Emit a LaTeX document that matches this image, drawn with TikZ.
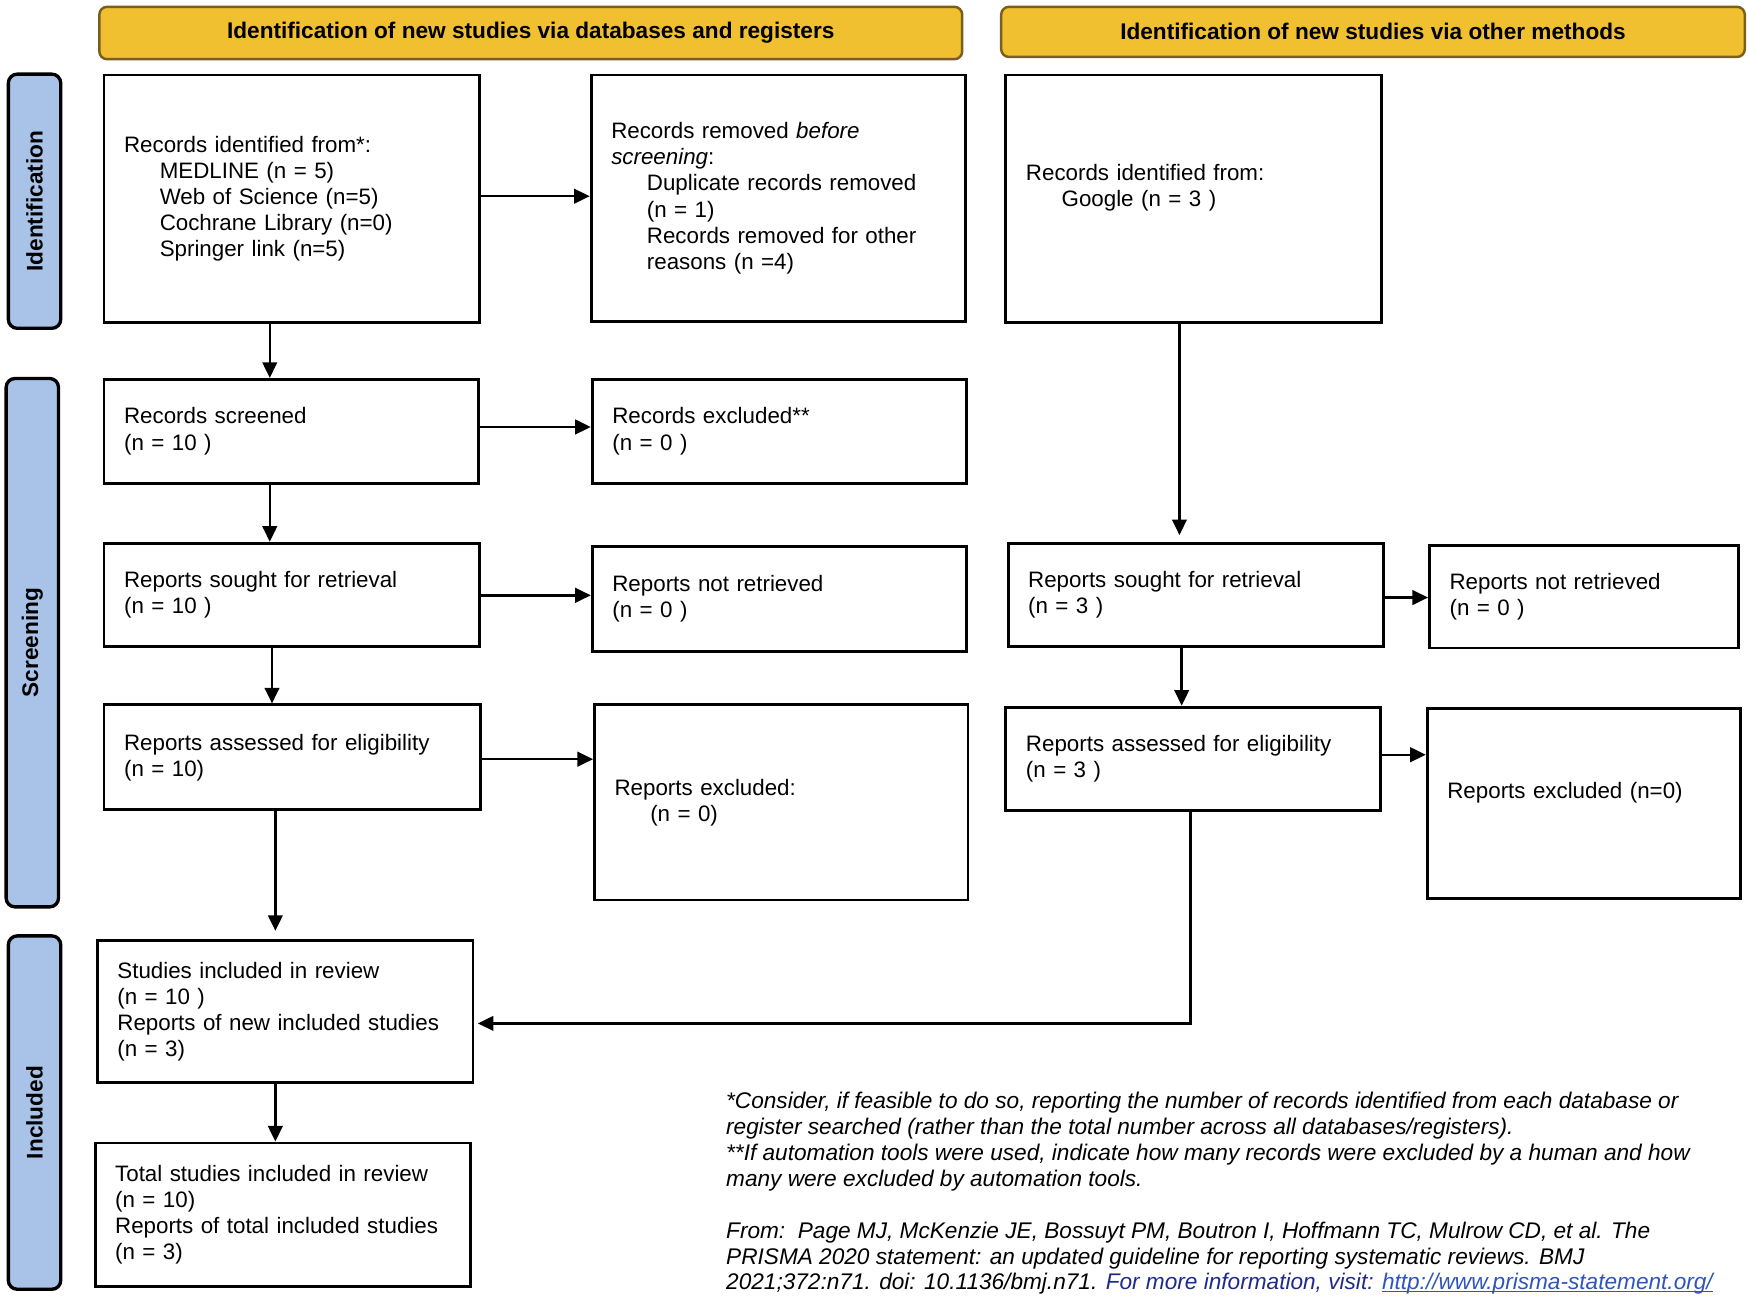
\documentclass[tikz,border=0pt]{standalone}
\usepackage{fontspec}
\setmainfont{Liberation Sans}
\usetikzlibrary{arrows.meta}
\definecolor{hdrfill}{HTML}{F0C030}
\definecolor{hdrline}{HTML}{7A5F1A}
\definecolor{sidefill}{HTML}{A8C3E7}
\definecolor{fromblue}{HTML}{1F2A8A}
\definecolor{urlblue}{HTML}{2F55B8}
\newcommand\myul[1]{\setbox0\hbox{#1}\rlap{\rule[-1.4pt]{\wd0}{0.6pt}}\box0}
\begin{document}
\begin{tikzpicture}[x=1pt,y=-1pt,
  every node/.style={font=\fontsize{10.15}{11.7}\selectfont},
  flowbox/.style={draw, line width=1.3pt, anchor=north west, align=left,
    inner xsep=9pt, inner ysep=0pt, font=\fontsize{10.02}{11.7}\selectfont},
  hdr/.style={draw=hdrline, fill=hdrfill, line width=1.1pt, rounded corners=3.5pt,
    anchor=north west, inner sep=0pt, font=\fontsize{10.15}{11.7}\selectfont\bfseries},
  side/.style={draw=black, fill=sidefill, line width=1.5pt, rounded corners=4pt,
    anchor=north west, inner sep=0pt},
  sidetext/.style={rotate=90, font=\fontsize{10.15}{11.7}\selectfont\bfseries},
  arr/.style={line width=1.1pt, -{Triangle[length=7pt,width=6.5pt]}},
  fnline/.style={anchor=base west, inner sep=0pt, font=\fontsize{10.15}{11.7}\selectfont\itshape}
]
\useasboundingbox (0,0) rectangle (784,581.7);

% headers
\node[hdr, minimum width=387pt, minimum height=23.5pt] (h1) at (44,2.5)
  {Identification of new studies via databases and registers};
\node[hdr, minimum width=333.5pt, minimum height=22.5pt] (h2) at (448.5,2.5)
  {Identification of new studies via other methods};

% side labels
\node[side, minimum width=23.5pt, minimum height=114pt] (s1) at (3,32.5) {};
\node[sidetext] (s1t) at (s1.center) {Identification};
\node[side, minimum width=23.5pt, minimum height=237pt] (s2) at (2,169) {};
\node[sidetext] (s2t) at (s2.center) {Screening};
\node[side, minimum width=23.5pt, minimum height=158.5pt] (s3) at (3,419) {};
\node[sidetext] (s3t) at (s3.center) {Included};

% left column
\node[flowbox, minimum width=168.5pt, minimum height=111pt, text width=150.5pt] (a1) at (46,33)
  {Records identified from*:\\
   \hspace*{16pt}MEDLINE (n = 5)\\
   \hspace*{16pt}Web of Science (n=5)\\
   \hspace*{16pt}Cochrane Library (n=0)\\
   \hspace*{16pt}Springer link (n=5)};
\node[flowbox, minimum width=168pt, minimum height=110.5pt, text width=150pt] (a2) at (264.5,33)
  {Records removed \emph{before}\\
   \emph{screening}:\\
   \hspace*{16pt}Duplicate records removed\\
   \hspace*{16pt}(n = 1)\\
   \hspace*{16pt}Records removed for other\\
   \hspace*{16pt}reasons (n =4)};
\node[flowbox, minimum width=168pt, minimum height=46.5pt, text width=150pt] (b1) at (46,169.5)
  {Records screened\\(n = 10 )};
\node[flowbox, minimum width=168pt, minimum height=46.5pt, text width=150pt] (b2) at (265,169.5)
  {Records excluded**\\(n = 0 )};
\node[flowbox, minimum width=168.5pt, minimum height=46.5pt, text width=150.5pt] (c1) at (46,243)
  {Reports sought for retrieval\\(n = 10 )};
\node[flowbox, minimum width=168pt, minimum height=47pt, text width=150pt] (c2) at (265,244.5)
  {Reports not retrieved\\(n = 0 )};
\node[flowbox, minimum width=169pt, minimum height=47pt, text width=151pt] (d1) at (46,315.5)
  {Reports assessed for eligibility\\(n = 10)};
\node[flowbox, minimum width=167.5pt, minimum height=87.5pt, text width=149.5pt] (d2) at (266,315.5)
  {Reports excluded:\\\hspace*{16pt}(n = 0)};
\node[flowbox, minimum width=168.5pt, minimum height=64pt, text width=150.5pt] (e1) at (43,421)
  {Studies included in review\\(n = 10 )\\Reports of new included studies\\(n = 3)};
\node[flowbox, minimum width=168.5pt, minimum height=64.5pt, text width=150.5pt] (f1) at (42,512)
  {Total studies included in review\\(n = 10)\\Reports of total included studies\\(n = 3)};

% right column
\node[flowbox, minimum width=168.5pt, minimum height=111pt, text width=150.5pt] (r1) at (450.5,33)
  {Records identified from:\\\hspace*{16pt}Google (n = 3 )\\\mbox{}};
\node[flowbox, minimum width=168.5pt, minimum height=46.5pt, text width=150.5pt] (r3) at (451.5,243)
  {Reports sought for retrieval\\(n = 3 )};
\node[flowbox, minimum width=138.5pt, minimum height=46pt, text width=120.5pt] (r3b) at (640.5,244)
  {Reports not retrieved\\(n = 0 )};
\node[flowbox, minimum width=168pt, minimum height=46.5pt, text width=150pt] (r4) at (450.5,316.5)
  {Reports assessed for eligibility\\(n = 3 )};
\node[flowbox, minimum width=140.5pt, minimum height=85.5pt, text width=122.5pt] (r4b) at (639.5,317)
  {Reports excluded (n=0)\\\mbox{}};

% helper coordinates for connector positions
\coordinate (xa) at (121,0);
\coordinate (xb) at (121,0);
\coordinate (xc) at (122,0);
\coordinate (xd) at (123.5,0);
\coordinate (xe) at (123.5,0);
\coordinate (xr1) at (529,0);
\coordinate (xr3) at (530,0);
\coordinate (xr4) at (534,0);
\coordinate (ya) at (0,88);
\coordinate (yb) at (0,191.5);
\coordinate (yc) at (0,267);
\coordinate (yd) at (0,340.5);
\coordinate (yr3) at (0,268);
\coordinate (yr4) at (0,338.5);
\coordinate (ye) at (0,459);
\coordinate (bend) at (534,459);

% connectors
\draw[arr] (a1.east |- ya) -- (a2.west |- ya);
\draw[arr] (a1.south -| xa) -- (b1.north -| xa);
\draw[arr] (b1.east |- yb) -- (b2.west |- yb);
\draw[arr] (b1.south -| xb) -- (c1.north -| xb);
\draw[arr] (c1.east |- yc) -- (c2.west |- yc);
\draw[arr] (c1.south -| xc) -- (d1.north -| xc);
\draw[arr] (d1.east |- yd) -- (d2.west |- yd);
\draw[arr] (d1.south -| xd) -- ([yshift=3.5pt]e1.north -| xd);
\draw[arr] (e1.south -| xe) -- (f1.north -| xe);
\draw[arr] (r1.south -| xr1) -- ([yshift=3pt]r3.north -| xr1);
\draw[arr] (r3.east |- yr3) -- (r3b.west |- yr3);
\draw[arr] (r3.south -| xr3) -- (r4.north -| xr3);
\draw[arr] (r4.east |- yr4) -- (r4b.west |- yr4);
\draw[arr] (r4.south -| xr4) -- (bend) -- ([xshift=1.5pt]e1.east |- ye);

% footnotes
\node[fnline] (fn1) at (325.5,497)
  {*Consider, if feasible to do so, reporting the number of records identified from each database or};
\node[fnline] (fn2) at (325.5,508.65)
  {register searched (rather than the total number across all databases/registers).};
\node[fnline] (fn3) at (325.5,520.3)
  {**If automation tools were used, indicate how many records were excluded by a human and how};
\node[fnline] (fn4) at (325.5,531.95)
  {many were excluded by automation tools.};
\node[fnline] (fn5) at (325.5,555.3)
  {From:\ \ Page MJ, McKenzie JE, Bossuyt PM, Boutron I, Hoffmann TC, Mulrow CD, et al. The};
\node[fnline] (fn6) at (325.5,566.95)
  {PRISMA 2020 statement: an updated guideline for reporting systematic reviews. BMJ};
\node[fnline] (fn7) at (325.5,578.2)
  {2021;372:n71. doi: 10.1136/bmj.n71. \textcolor{fromblue}{For more information, visit:} \textcolor{urlblue}{\myul{http://www.prisma-statement.org/}}};
\end{tikzpicture}
\end{document}
